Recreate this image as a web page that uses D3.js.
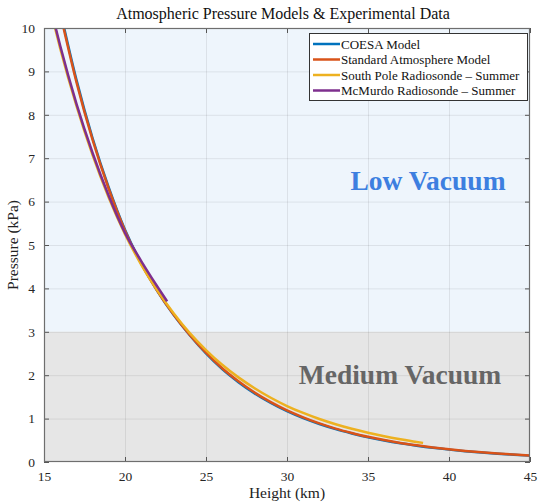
<!DOCTYPE html>
<html><head><meta charset="utf-8">
<script src="https://cdn.jsdelivr.net/npm/d3@7"></script>
<style>body{margin:0;background:#fff}svg{display:block}</style>
</head><body>
<script>
// ---- data ----
const xTicks = [15, 20, 25, 30, 35, 40, 45];
const yTicks = [0, 1, 2, 3, 4, 5, 6, 7, 8, 9, 10];
const seriesNames = ["COESA Model", "Standard Atmosphere Model", "South Pole Radiosonde \u2013 Summer", "McMurdo Radiosonde \u2013 Summer"];
const seriesColors = ["#0072BD", "#D95319", "#EDB120", "#7E2F8E"];
const regionNames = ["Low Vacuum", "Medium Vacuum"];
const regionBounds = [[3, 10], [0, 3]];

const coesaHeight = [16.0, 17, 18, 19, 20, 21, 22, 23, 24, 25, 26, 27, 28, 29, 30, 31, 32, 33, 34, 35, 36, 37, 38, 39, 40, 41, 42, 43, 44, 45];
const coesaPressure = [10.4, 8.81, 7.46, 6.32, 5.35, 4.58, 3.94, 3.39, 2.92, 2.5, 2.14, 1.84, 1.58, 1.36, 1.17, 1.01, 0.875, 0.757, 0.657, 0.568, 0.494, 0.43, 0.375, 0.326, 0.285, 0.25, 0.219, 0.192, 0.168, 0.146];

const stdHeight = [16.0, 17, 18, 19, 20, 21, 22, 23, 24, 25, 26, 27, 28, 29, 30, 31, 32, 33, 34, 35, 36, 37, 38, 39, 40, 41, 42, 43, 44, 45];
const stdPressure = [10.34, 8.76, 7.42, 6.29, 5.33, 4.57, 3.94, 3.4, 2.93, 2.52, 2.16, 1.86, 1.6, 1.38, 1.19, 1.03, 0.89, 0.77, 0.67, 0.58, 0.505, 0.44, 0.385, 0.335, 0.292, 0.256, 0.224, 0.196, 0.172, 0.15];

const southPoleHeight = [15.5, 16, 17, 18, 19, 20, 21, 22, 23, 24, 25, 26, 27, 28, 29, 30, 31, 32, 33, 34, 35, 36, 37, 38, 38.4];
const southPolePressure = [10.27, 9.53, 8.21, 7.07, 6.09, 5.25, 4.55, 3.95, 3.43, 2.97, 2.58, 2.24, 1.95, 1.7, 1.48, 1.29, 1.13, 0.99, 0.87, 0.765, 0.675, 0.595, 0.525, 0.462, 0.44];

const mcmurdoHeight = [15.5, 16, 17, 18, 19, 20, 21, 22, 22.6];
const mcmurdoPressure = [10.33, 9.59, 8.26, 7.12, 6.13, 5.28, 4.63, 4.04, 3.7];

const seriesHeights = [coesaHeight, stdHeight, southPoleHeight, mcmurdoHeight];
const seriesPressures = [coesaPressure, stdPressure, southPolePressure, mcmurdoPressure];

// ---- layout ----
const W = 538, H = 504;
const m = {left: 44, right: 8, top: 28, bottom: 42};
const pw = W - m.left - m.right, ph = H - m.top - m.bottom;
const serif = "'Liberation Serif','DejaVu Serif',serif";

const svg = d3.select("body").append("svg").attr("width", W).attr("height", H);
const x = d3.scaleLinear().domain([15, 45]).range([m.left, m.left + pw]);
const y = d3.scaleLinear().domain([0, 10]).range([m.top + ph, m.top]);

svg.append("defs").append("clipPath").attr("id", "clip")
  .append("rect").attr("x", m.left).attr("y", m.top).attr("width", pw).attr("height", ph);

// region backgrounds
const regionFill = ["#eef5fc", "#e6e6e6"];
svg.append("g").selectAll("rect").data(regionBounds).join("rect")
  .attr("x", m.left).attr("width", pw)
  .attr("y", d => y(d[1])).attr("height", d => y(d[0]) - y(d[1]))
  .attr("fill", (d, i) => regionFill[i]);

// grid
const grid = svg.append("g").attr("stroke", "#000").attr("stroke-opacity", 0.08).attr("stroke-width", 1);
grid.selectAll(".gx").data(xTicks.slice(1, -1)).join("line")
  .attr("x1", d => x(d) + 0.5).attr("x2", d => x(d) + 0.5).attr("y1", m.top).attr("y2", m.top + ph);
grid.selectAll(".gy").data(yTicks.slice(1, -1)).join("line")
  .attr("y1", d => y(d) + 0.5).attr("y2", d => y(d) + 0.5).attr("x1", m.left).attr("x2", m.left + pw);

// region labels
const regionLabelPos = [[428, 6.27], [400, 1.8]];
const regionLabelColor = ["#3d7fe0", "#666666"];
svg.append("g").selectAll("text").data(regionNames).join("text")
  .attr("x", (d, i) => regionLabelPos[i][0]).attr("y", (d, i) => y(regionLabelPos[i][1]))
  .attr("text-anchor", "middle").attr("font-family", serif).attr("font-weight", "bold")
  .attr("font-size", 27.5).attr("fill", (d, i) => regionLabelColor[i]).text(d => d);

// lines
const line = d3.line().curve(d3.curveMonotoneX).x(d => x(d[0])).y(d => y(d[1]));
const lg = svg.append("g").attr("clip-path", "url(#clip)");
seriesNames.forEach((name, i) => {
  const pts = seriesHeights[i].map((h, j) => [h, seriesPressures[i][j]]);
  lg.append("path").datum(pts).attr("d", line).attr("fill", "none")
    .attr("stroke", seriesColors[i]).attr("stroke-width", 2.5).attr("stroke-linejoin", "round");
});

// axes (box with inward ticks)
const axisColor = "#262626";
function styleAxis(g) {
  g.select(".domain").remove();
  g.selectAll(".tick line").attr("stroke", "#555");
  g.selectAll(".tick text").attr("font-family", serif).attr("font-size", 13.5).attr("fill", axisColor);
}
svg.append("g").attr("transform", `translate(0,${m.top + ph})`)
  .call(d3.axisBottom(x).tickValues(xTicks).tickSize(-5).tickPadding(9).tickFormat(d3.format("d")))
  .call(styleAxis);
svg.append("g").attr("transform", `translate(${m.left},0)`)
  .call(d3.axisLeft(y).tickValues(yTicks).tickSize(-5).tickPadding(9).tickFormat(d3.format("d")))
  .call(styleAxis);
svg.append("g").attr("transform", `translate(0,${m.top})`)
  .call(d3.axisTop(x).tickValues(xTicks).tickSize(-5).tickFormat(""))
  .call(styleAxis);
svg.append("g").attr("transform", `translate(${m.left + pw},0)`)
  .call(d3.axisRight(y).tickValues(yTicks).tickSize(-5).tickFormat(""))
  .call(styleAxis);
svg.append("rect").attr("x", m.left + 0.5).attr("y", m.top + 0.5).attr("width", pw - 1).attr("height", ph - 1)
  .attr("fill", "none").attr("stroke", "#6e6e6e").attr("stroke-width", 1.2);

// title & labels
svg.append("text").attr("x", 283).attr("y", 19).attr("text-anchor", "middle")
  .attr("font-family", serif).attr("font-size", 16).attr("fill", "#111")
  .text("Atmospheric Pressure Models & Experimental Data");
svg.append("text").attr("x", 287).attr("y", 498).attr("text-anchor", "middle")
  .attr("font-family", serif).attr("font-size", 15.5).attr("fill", "#222").text("Height (km)");
svg.append("text").attr("transform", `translate(18,${m.top + ph / 2}) rotate(-90)`).attr("text-anchor", "middle")
  .attr("font-family", serif).attr("font-size", 15.5).attr("fill", "#222").text("Pressure (kPa)");

// legend
const lgX = 309, lgY = 33, lgW = 218, rowH = 15.5;
const leg = svg.append("g");
leg.append("rect").attr("x", lgX + 0.5).attr("y", lgY + 0.5).attr("width", lgW).attr("height", 67)
  .attr("fill", "#fff").attr("stroke", "#333").attr("stroke-width", 1);
seriesNames.forEach((name, i) => {
  const cy = lgY + 11 + i * rowH;
  leg.append("line").attr("x1", lgX + 4).attr("x2", lgX + 31).attr("y1", cy).attr("y2", cy)
    .attr("stroke", seriesColors[i]).attr("stroke-width", 2.5);
  leg.append("text").attr("x", lgX + 32).attr("y", cy + 4.5).attr("font-family", serif)
    .attr("font-size", 13).attr("fill", "#111").text(name);
});
</script>
</body></html>
